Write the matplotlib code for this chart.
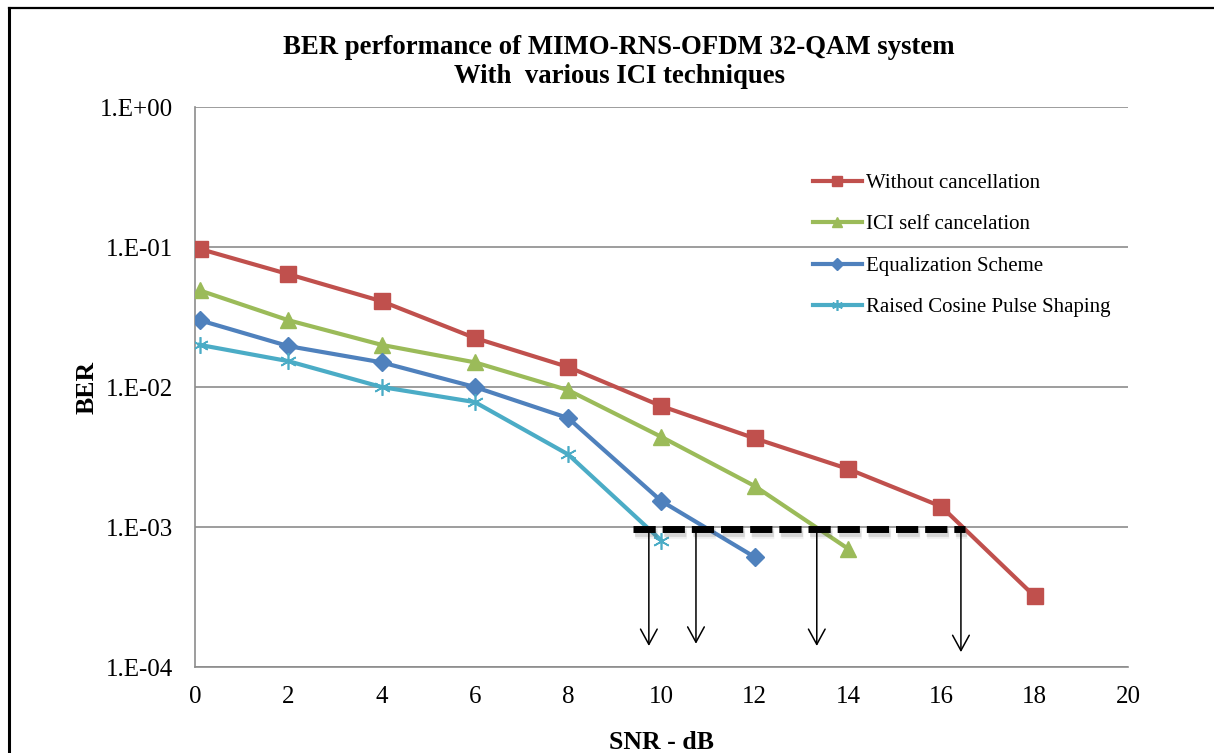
import numpy as np
import matplotlib
matplotlib.use("Agg")
import matplotlib.pyplot as plt
from matplotlib.lines import Line2D

plt.rcParams['font.family'] = ['Liberation Serif', 'DejaVu Serif']

# SNR (dB) and BER readings for each technique
snr_red = [0.1, 2, 4, 6, 8, 10, 12, 14, 16, 18]
ber_red = [0.097, 0.064, 0.041, 0.0224, 0.0139, 0.0073, 0.0043, 0.0026, 0.0014, 0.00032]

snr_green = [0.1, 2, 4, 6, 8, 10, 12, 14]
ber_green = [0.049, 0.030, 0.020, 0.015, 0.0095, 0.0044, 0.00196, 0.0007]

snr_blue = [0.1, 2, 4, 6, 8, 10, 12]
ber_blue = [0.030, 0.0196, 0.015, 0.010, 0.006, 0.00153, 0.00061]

snr_cyan = [0.1, 2, 4, 6, 8, 10]
ber_cyan = [0.020, 0.0153, 0.010, 0.0078, 0.0033, 0.0008]

labels = ['Without cancellation', 'ICI self cancelation',
          'Equalization Scheme', 'Raised Cosine Pulse Shaping']

# reference BER level and where each curve crosses it
ber_ref = 0.00096
ref_start, ref_end = 9.4, 16.5
arrow_x = [9.73, 10.74, 13.33, 16.42]
arrow_tip = [1.35e-4, 1.4e-4, 1.35e-4, 1.22e-4]

fig = plt.figure(figsize=(12.14, 7.53), dpi=100)
ax = fig.add_axes([0.1606, 0.1142, 0.7685, 0.7437])

ax.plot(snr_red, ber_red, color='#C0504D', lw=3, marker='s', ms=12, label=labels[0], zorder=5)
ax.plot(snr_green, ber_green, color='#9BBB59', lw=3, marker='^', ms=12, label=labels[1], zorder=5)
ax.plot(snr_blue, ber_blue, color='#4F81BD', lw=3, marker='D', ms=9, label=labels[2], zorder=5)
ax.plot(snr_cyan, ber_cyan, color='#4BACC6', lw=3, marker=(6, 2, 0), ms=12, mew=1.2,
        label=labels[3], zorder=5)

# dashed reference line with a soft shadow
for k, w, a in [(0.95, 8, 0.07), (0.94, 6, 0.09), (0.93, 4, 0.10)]:
    ax.plot([ref_start + 0.04, ref_end + 0.04], [ber_ref * k, ber_ref * k], color='#555555',
            lw=w, ls=(0, (3.2 * 5 / w, 1.0 * 5 / w)), alpha=a, zorder=6)
ax.plot([ref_start, ref_end], [ber_ref, ber_ref], color='black', lw=5, ls=(0, (3.2, 1.0)),
        zorder=7)

for xa, yt in zip(arrow_x, arrow_tip):
    ax.annotate('', xy=(xa, yt), xytext=(xa, ber_ref),
                arrowprops=dict(arrowstyle='->,head_length=1.1,head_width=0.6',
                                color='black', lw=1.1), zorder=8)

ax.set_yscale('log')
ax.set_ylim(1e-4, 1)
ax.set_xlim(0, 20)
ax.set_xticks(np.arange(0, 21, 2))
ax.set_yticks([1e-4, 1e-3, 1e-2, 1e-1, 1])
ax.set_yticklabels(['1.E-04', '1.E-03', '1.E-02', '1.E-01', '1.E+00'])
ax.yaxis.set_minor_locator(matplotlib.ticker.NullLocator())
ax.tick_params(length=0, labelsize=18, pad=16)
ax.tick_params(axis='x', pad=14)
ax.grid(axis='y', color='#8c8c8c', lw=1.2)
ax.set_axisbelow(True)
for s in ['top', 'right']:
    ax.spines[s].set_visible(False)
ax.spines['left'].set_color('#8c8c8c')
ax.spines['bottom'].set_color('#8c8c8c')
ax.spines['left'].set_linewidth(1.2)
ax.spines['bottom'].set_linewidth(1.2)

ax.set_xlabel('SNR - dB', fontsize=18.5, fontweight='bold', labelpad=16)
ax.set_ylabel('BER', fontsize=18.5, fontweight='bold', labelpad=1)
fig.text(0.51, 0.918, 'BER performance of MIMO-RNS-OFDM 32-QAM system\nWith  various ICI techniques',
         ha='center', va='center', fontsize=19.3, fontweight='bold', linespacing=1.2)

ax.legend(loc='upper left', bbox_to_anchor=(0.642, 0.915), frameon=False, fontsize=15,
          handlelength=2.35, handletextpad=0.2, labelspacing=1.05, markerscale=0.65)

# outer border
fig.add_artist(Line2D([9 / 1214, 9 / 1214], [0, 1 - 8 / 753], color='black', lw=2.2))
fig.add_artist(Line2D([9 / 1214, 1], [1 - 8 / 753, 1 - 8 / 753], color='black', lw=1.6))

fig.savefig('out.png', dpi=100)
